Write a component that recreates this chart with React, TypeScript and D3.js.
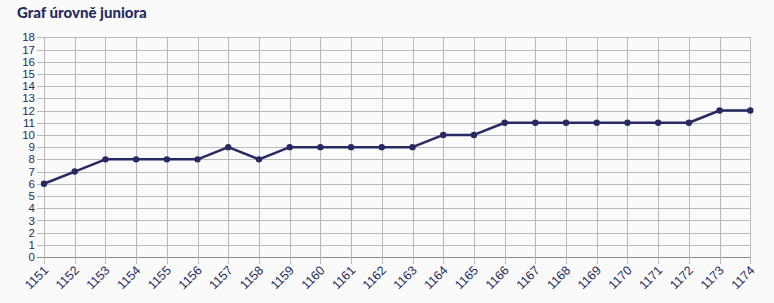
import React, { useEffect, useRef } from "react";
import * as d3 from "d3";

const title = "Graf úrovně juniora";
const categories = [
  "1151", "1152", "1153", "1154", "1155", "1156", "1157", "1158", "1159", "1160",
  "1161", "1162", "1163", "1164", "1165", "1166", "1167", "1168", "1169", "1170",
  "1171", "1172", "1173", "1174",
];
const levels = [6, 7, 8, 8, 8, 8, 9, 8, 9, 9, 9, 9, 9, 10, 10, 11, 11, 11, 11, 11, 11, 11, 12, 12];
const yTicks = d3.range(0, 19);

const W = 774;
const H = 303;
const left = 44;
const right = 750.3;
const top = 37.3;
const bottom = 257;
const navy = "#272a62";

export default function App() {
  const ref = useRef<SVGSVGElement>(null);
  useEffect(() => {
    document.body.style.margin = "0";
    document.body.style.background = "#fafafa";
    const svg = d3.select(ref.current);
    svg.selectAll("*").remove();

    const x = d3.scalePoint<string>().domain(categories).range([left, right]);
    const y = d3.scaleLinear().domain([0, 18]).range([bottom, top]);

    svg.append("rect").attr("width", W).attr("height", H).attr("fill", "#fafafa");

    svg
      .append("text")
      .attr("x", 17)
      .attr("y", 17.5)
      .attr("font-family", "Lato, 'Open Sans', sans-serif")
      .attr("font-weight", 900)
      .attr("font-size", 15)
      .attr("fill", navy)
      .text(title);

    const grid = svg.append("g");
    yTicks.forEach((t) => {
      const yy = Math.round(y(t)) + 0.5;
      grid
        .append("line")
        .attr("x1", 37)
        .attr("x2", right)
        .attr("y1", yy)
        .attr("y2", yy)
        .attr("stroke", t === 0 ? "#8a8a8a" : "#b9b9b9")
        .attr("stroke-width", 1);
      grid
        .append("text")
        .attr("x", 35)
        .attr("y", y(t))
        .attr("dy", "0.36em")
        .attr("text-anchor", "end")
        .attr("font-family", "'Liberation Sans', Arial, sans-serif")
        .attr("font-size", 11.5)
        .attr("fill", navy)
        .text(String(t));
    });
    categories.forEach((c) => {
      const xx = Math.round(x(c)!) + 0.5;
      grid
        .append("line")
        .attr("x1", xx)
        .attr("x2", xx)
        .attr("y1", top)
        .attr("y2", bottom + 7)
        .attr("stroke", "#b9b9b9")
        .attr("stroke-width", 1);
      const tx = x(c)! + 2;
      const ty = bottom + 11;
      grid
        .append("text")
        .attr("transform", `translate(${tx},${ty}) rotate(-45)`)
        .attr("text-anchor", "end")
        .attr("dy", "0.35em")
        .attr("font-family", "'Liberation Sans', Arial, sans-serif")
        .attr("font-size", 12.5)
        .attr("fill", navy)
        .text(c);
    });

    const data = categories.map((c, i) => ({ c, v: levels[i] }));
    const line = d3
      .line<{ c: string; v: number }>()
      .x((d) => x(d.c)!)
      .y((d) => y(d.v));
    svg
      .append("path")
      .datum(data)
      .attr("d", line)
      .attr("fill", "none")
      .attr("stroke", navy)
      .attr("stroke-width", 2.5)
      .attr("stroke-linejoin", "round");
    svg
      .append("g")
      .selectAll("circle")
      .data(data)
      .join("circle")
      .attr("cx", (d) => x(d.c)!)
      .attr("cy", (d) => y(d.v))
      .attr("r", 3.2)
      .attr("fill", navy);
  }, []);
  return <svg ref={ref} width={W} height={H} style={{ display: "block" }} />;
}
